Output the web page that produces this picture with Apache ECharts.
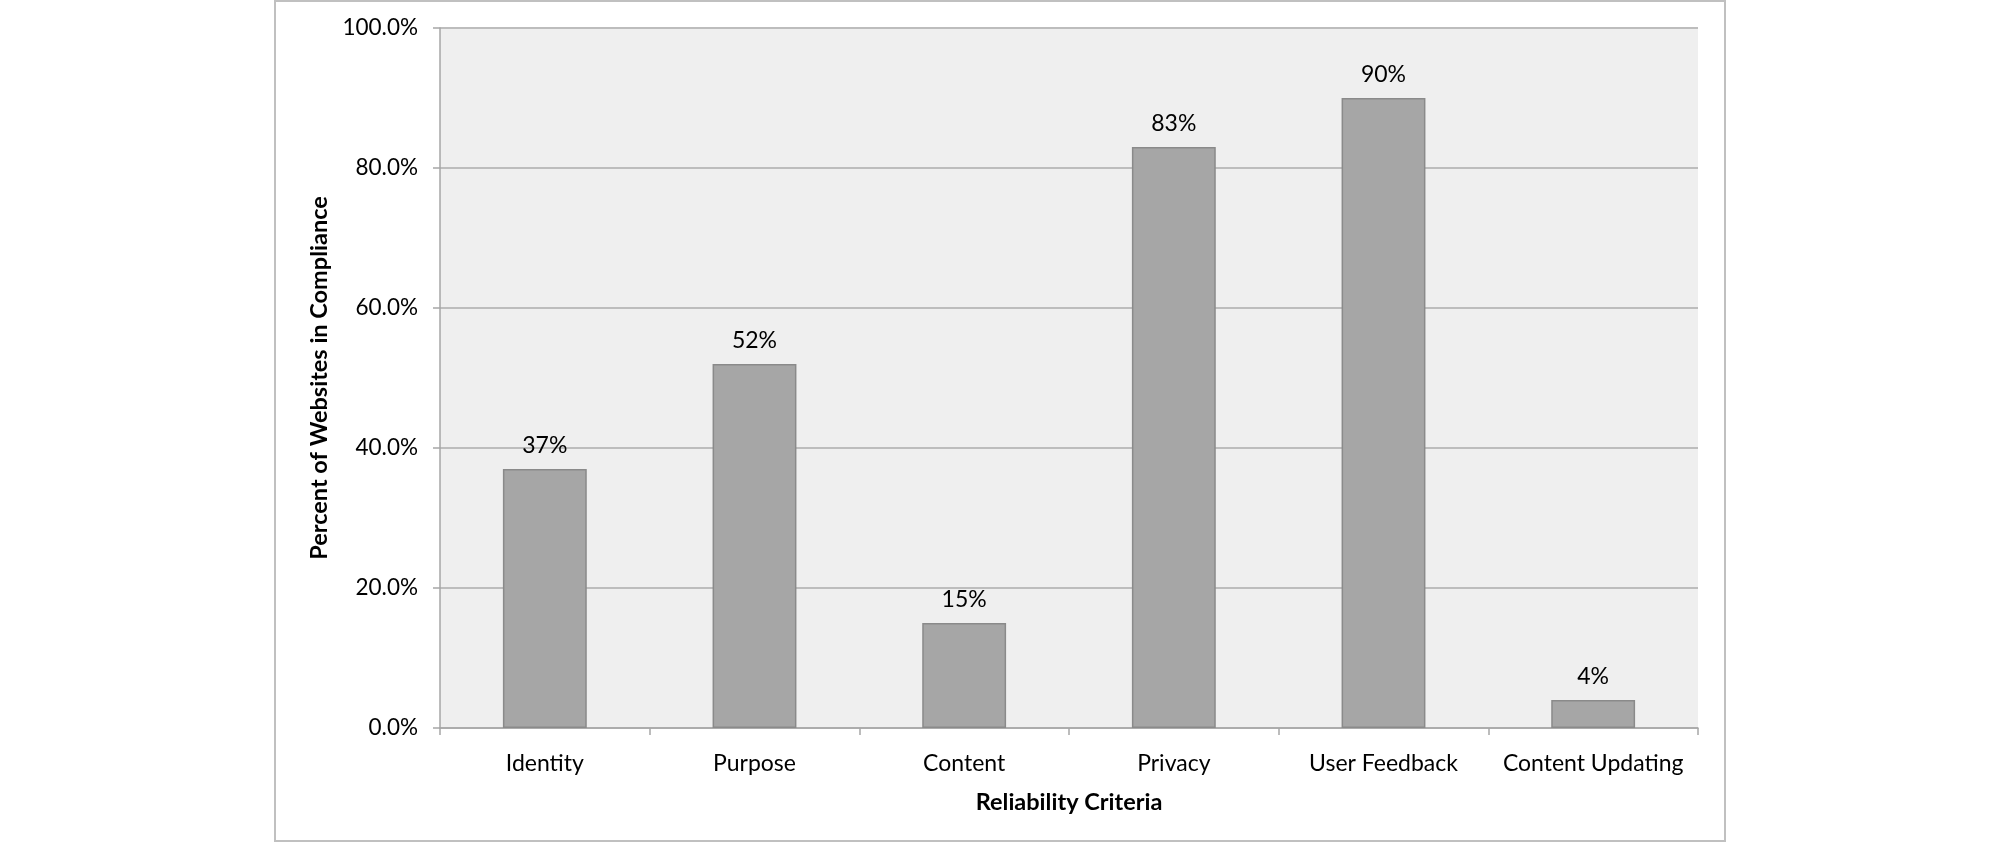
<!DOCTYPE html>
<html>
<head>
<meta charset="utf-8">
<script src="https://cdn.jsdelivr.net/npm/echarts@6/dist/echarts.min.js"></script>
<style>
html,body{margin:0;padding:0;background:#fff;}
#chart{width:2000px;height:843px;}
</style>
</head>
<body>
<div id="chart"></div>
<script>
const categories = ['Identity', 'Purpose', 'Content', 'Privacy', 'User Feedback', 'Content Updating'];
const compliance = [37, 52, 15, 83, 90, 4];
const yTicks = [0, 20, 40, 60, 80, 100];

const FONT = 'Lato';
const chart = echarts.init(document.getElementById('chart'));
chart.setOption({
  backgroundColor: '#ffffff',
  animation: false,
  graphic: [{
    type: 'rect',
    shape: { x: 275, y: 1, width: 1450, height: 840 },
    style: { fill: 'none', stroke: '#c0c0c0', lineWidth: 2 },
    silent: true
  }],
  grid: {
    left: 440, right: 302, top: 28, bottom: 115,
    show: true, backgroundColor: '#efefef', borderWidth: 0
  },
  xAxis: {
    type: 'category',
    data: categories,
    name: 'Reliability Criteria',
    nameLocation: 'middle',
    nameGap: 62,
    nameTextStyle: { fontFamily: FONT, fontSize: 23.5, fontWeight: 'bold', color: '#000' },
    axisLine: { show: true, lineStyle: { color: '#a6a6a6', width: 1.5 } },
    axisTick: { show: true, length: 7, alignWithLabel: false, lineStyle: { color: '#a6a6a6', width: 1.5 } },
    axisLabel: { fontFamily: FONT, fontSize: 23, color: '#000', margin: 24, interval: 0 }
  },
  yAxis: {
    type: 'value',
    min: yTicks[0],
    max: yTicks[yTicks.length - 1],
    interval: 20,
    name: 'Percent of Websites in Compliance',
    nameLocation: 'middle',
    nameGap: 104,
    nameRotate: 90,
    nameTextStyle: { fontFamily: FONT, fontSize: 23.5, fontWeight: 'bold', color: '#000' },
    axisLine: { show: true, lineStyle: { color: '#a6a6a6', width: 1.5 } },
    axisTick: { show: true, length: 7, lineStyle: { color: '#a6a6a6', width: 1.5 } },
    axisLabel: {
      fontFamily: FONT, fontSize: 22.5, color: '#000', margin: 22,
      formatter: v => v.toFixed(1) + '%'
    },
    splitLine: { show: true, lineStyle: { color: '#bdbdbd', width: 2 } }
  },
  series: [{
    type: 'bar',
    data: compliance,
    barWidth: '40%',
    itemStyle: { color: '#a6a6a6', borderColor: '#8a8a8a', borderWidth: 1.5 },
    label: {
      show: true, position: 'top', distance: 12,
      fontFamily: FONT, fontSize: 23, color: '#000',
      formatter: p => p.value + '%'
    }
  }]
});
</script>
</body>
</html>
